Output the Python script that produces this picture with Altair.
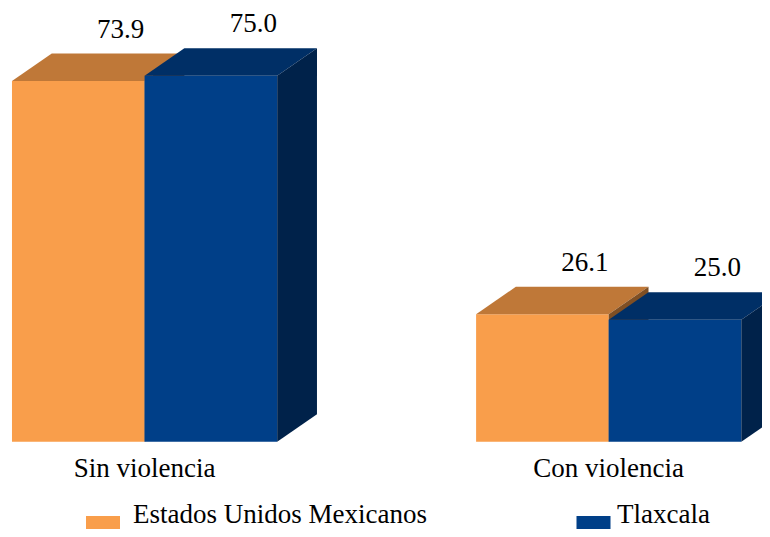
import altair as alt
import pandas as pd

# ---- data ----
categories = ["Sin violencia", "Con violencia"]
series = ["Estados Unidos Mexicanos", "Tlaxcala"]
values_eum = [73.9, 26.1]
values_tlax = [75.0, 25.0]

# ---- styling / layout constants ----
FONT = "Liberation Serif"
front_colors = ["#F99E4B", "#003F88"]
top_colors = ["#BF7838", "#002F66"]
side_colors = ["#7F4F24", "#00224A"]
GROUP_STEP = 3.5     # x-units between group starts (bar width = 1 unit)
DEPTH_X = 0.30       # 3D depth, x-units
DEPTH_Y = 5.64       # 3D depth, value units
W, H = 754, 521
x_scale = alt.Scale(domain=[-0.030, 5.656], nice=False, zero=False)
y_scale = alt.Scale(domain=[-17.89, 88.87], nice=False, zero=False)

fronts, tops, sides = [], [], []
for g, cat in enumerate(categories):
    for s, (name, vals) in enumerate(zip(series, [values_eum, values_tlax])):
        v = vals[g]
        x0 = g * GROUP_STEP + s
        bid = f"{g}-{s}"
        fronts.append(dict(cat=cat, series=name, s=s, x0=x0, x1=x0 + 1, v=v,
                           lx=x0 + 0.5 + DEPTH_X + 0.02, ly=v + DEPTH_Y))
        tops.append(dict(bar=bid, s=s, yy=v, xa=x0, xb=x0 + 1))
        tops.append(dict(bar=bid, s=s, yy=v + DEPTH_Y, xa=x0 + DEPTH_X, xb=x0 + 1 + DEPTH_X))
        sides.append(dict(bar=bid, s=s, xs=x0 + 1, ylo=0, yhi=v))
        sides.append(dict(bar=bid, s=s, xs=x0 + 1 + DEPTH_X, ylo=DEPTH_Y, yhi=v + DEPTH_Y))

df_front = pd.DataFrame(fronts)
df_top = pd.DataFrame(tops)
df_side = pd.DataFrame(sides)

color_scale = alt.Scale(domain=series, range=front_colors)

layers = []
for s in range(2):
    front = alt.Chart(df_front).transform_filter(alt.datum.s == s).mark_rect().encode(
        x=alt.X("x0:Q", scale=x_scale, axis=None),
        x2="x1:Q",
        y=alt.Y("v:Q", scale=y_scale, axis=None),
        y2=alt.datum(0),
        color=alt.Color("series:N", scale=color_scale, legend=None),
    )
    top = alt.Chart(df_top).transform_filter(alt.datum.s == s).mark_area(
        orient="horizontal", color=top_colors[s], opacity=1).encode(
        y=alt.Y("yy:Q", scale=y_scale, axis=None),
        x=alt.X("xa:Q", scale=x_scale, axis=None),
        x2="xb:Q",
        detail="bar:N",
    )
    side = alt.Chart(df_side).transform_filter(alt.datum.s == s).mark_area(
        orient="vertical", color=side_colors[s], opacity=1).encode(
        x=alt.X("xs:Q", scale=x_scale, axis=None),
        y=alt.Y("ylo:Q", scale=y_scale, axis=None),
        y2="yhi:Q",
        detail="bar:N",
    )
    layers += [front, top, side]

value_labels = alt.Chart(df_front).mark_text(
    font=FONT, fontSize=27, color="#000000", baseline="alphabetic", dy=-16).encode(
    x=alt.X("lx:Q", scale=x_scale, axis=None),
    y=alt.Y("ly:Q", scale=y_scale, axis=None),
    text=alt.Text("v:Q", format=".1f"),
)

df_cat = pd.DataFrame({"cat": categories,
                       "xc": [g * GROUP_STEP + 1 for g in range(len(categories))]})
cat_labels = alt.Chart(df_cat).mark_text(
    font=FONT, fontSize=27, color="#000000", baseline="alphabetic").encode(
    x=alt.X("xc:Q", scale=x_scale, axis=None),
    y=alt.value(469),
    text="cat:N",
)

# legend at the bottom (symbols coloured through the same colour scale)
df_leg = pd.DataFrame({"series": series, "lx": [95, 585.5], "tx": [125, 609]})
leg_sym = alt.Chart(df_leg).mark_square(size=1156, opacity=1, strokeWidth=0).encode(
    x=alt.X("lx:Q", scale=None, axis=None),
    y=alt.value(525),
    color=alt.Color("series:N", scale=color_scale, legend=None),
)
leg_txt = alt.Chart(df_leg).mark_text(
    font=FONT, fontSize=27, color="#000000", align="left", baseline="alphabetic").encode(
    x=alt.X("tx:Q", scale=None, axis=None),
    y=alt.value(515),
    text="series:N",
)

chart = alt.layer(*layers, value_labels, cat_labels, leg_sym, leg_txt).properties(
    width=W, height=H,
    autosize=alt.AutoSizeParams(type="none"),
    padding=0,
    background="#FFFFFF",
).configure_view(stroke=None)

chart.save("out.html", embed_options={"renderer": "svg", "actions": False})
